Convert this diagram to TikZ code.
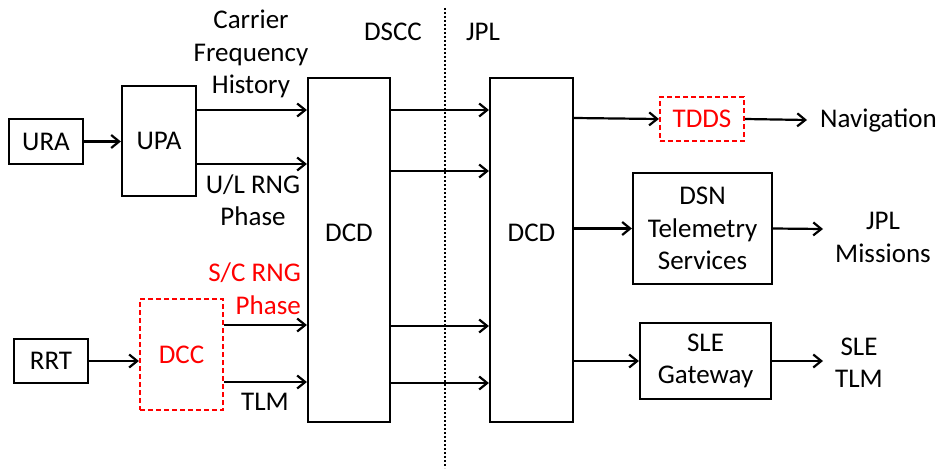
\documentclass[tikz,border=0pt]{standalone}
\usepackage{fontspec}
\setmainfont{Carlito}
\usetikzlibrary{arrows.meta}
\newcommand\dfont{\fontsize{27}{32.5}\selectfont}
\begin{document}
\begin{tikzpicture}[x=1pt,y=-1pt,
  box/.style={draw=black,line width=2.2pt,inner sep=0pt,align=center,font=\dfont},
  rbox/.style={draw=red,line width=2.2pt,dash pattern=on 5pt off 3pt,text=red,inner sep=0pt,align=center,font=\dfont},
  lbl/.style={inner sep=0pt,align=center,font=\dfont},
  arr/.style={line width=2.2pt,-{Straight Barb[length=8pt,width=13pt]}},
  sep/.style={line width=2pt,dash pattern=on 2pt off 2pt}]
\useasboundingbox (0,0) rectangle (944,468);
% left boxes
\node[box,minimum width=74pt,minimum height=45pt] (ura) at (46,141.5) {URA};
\node[box,minimum width=74pt,minimum height=110pt] (upa) at (159,141) {UPA};
\node[box,minimum width=74pt,minimum height=44pt] (rrt) at (51,361) {RRT};
\node[rbox,minimum width=83pt,minimum height=111pt] (dcc) at (181.5,354.5) {DCC};
% DCD boxes
\node[box,minimum width=82pt,minimum height=344pt] (dcd1) at (349,250) {};
\node[lbl] (dcd1t) at (349,233) {DCD};
\node[box,minimum width=83pt,minimum height=344pt] (dcd2) at (531.5,250) {};
\node[lbl] (dcd2t) at (531.5,233) {DCD};
% right boxes
\node[rbox,minimum width=84pt,minimum height=44pt] (tdds) at (702,119) {TDDS};
\node[box,minimum width=139pt,minimum height=111pt] (dsn) at (702.5,228.5) {DSN\\Telemetry\\Services};
\node[box,minimum width=131pt,minimum height=76pt] (sle) at (705.5,361) {SLE\\Gateway};
% labels
\node[lbl] (cfh) at (251,54) {Carrier\\Frequency\\History};
\node[lbl] (ulrng) at (253,200) {U/L RNG\\Phase};
\node[lbl,align=right,anchor=east,text=red] (scrng) at (301,288.5) {S/C RNG\\Phase};
\node[lbl] (tlm) at (265,402) {TLM};
\node[lbl] (dscc) at (393,32) {DSCC};
\node[lbl] (jpl) at (483,32) {JPL};
\node[lbl,anchor=west] (nav) at (820,120) {Navigation};
\node[lbl] (jplm) at (883,237.5) {JPL\\Missions};
\node[lbl] (sletlm) at (859,362.5) {SLE\\TLM};
% free ends
\coordinate (navin) at (807,120);
\coordinate (jplmin) at (823,229);
\coordinate (sletlmin) at (823,361);
\coordinate (dtop) at (445,8);
\coordinate (dbot) at (445,468);
% separator
\draw[sep] (dtop) -- (dbot);
% connectors
\draw[arr] (ura.east) -- (upa.west |- ura.east);
\draw[arr] (rrt.east) -- (dcc.west |- rrt.east);
\draw[arr] (upa.east |- 0,110) -- (dcd1.west |- 0,110);
\draw[arr] (upa.east |- 0,164) -- (dcd1.west |- 0,164);
\draw[arr] (dcc.east |- 0,325) -- (dcd1.west |- 0,325);
\draw[arr] (dcc.east |- 0,382) -- (dcd1.west |- 0,382);
\draw[arr] (dcd1.east |- 0,110) -- (dcd2.west |- 0,110);
\draw[arr] (dcd1.east |- 0,171) -- (dcd2.west |- 0,171);
\draw[arr] (dcd1.east |- 0,326) -- (dcd2.west |- 0,326);
\draw[arr] (dcd1.east |- 0,383) -- (dcd2.west |- 0,383);
\draw[arr] (dcd2.east |- 0,118) -- (tdds.west);
\draw[arr] (dcd2.east |- dsn.west) -- (dsn.west);
\draw[arr] (dcd2.east |- sle.west) -- (sle.west);
\draw[arr] (tdds.east) -- (navin);
\draw[arr] (dsn.east) -- (jplmin);
\draw[arr] (sle.east) -- (sletlmin);
\end{tikzpicture}
\end{document}
